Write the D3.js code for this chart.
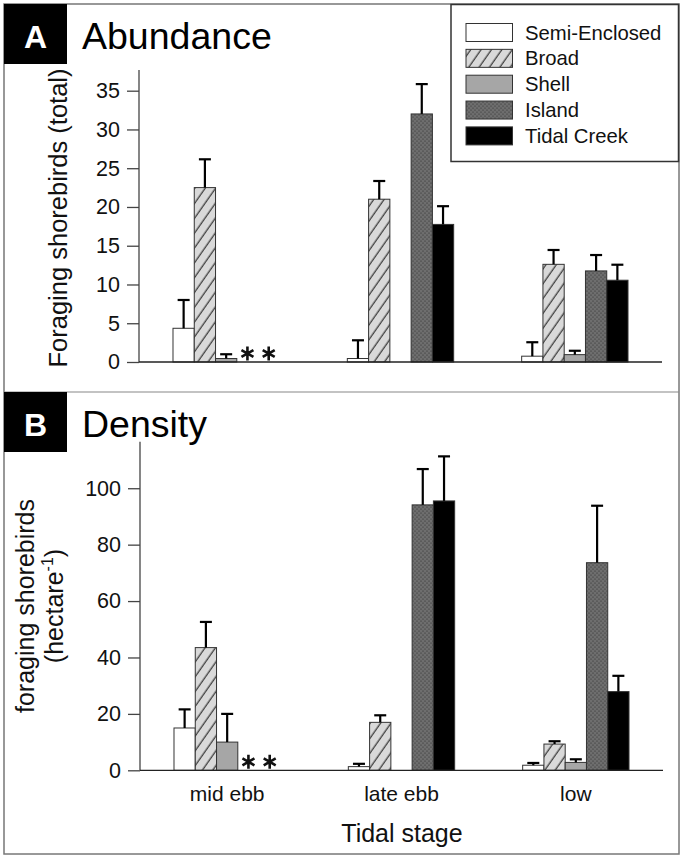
<!DOCTYPE html>
<html><head><meta charset="utf-8">
<script src="https://cdn.jsdelivr.net/npm/d3@7"></script>
<style>body{margin:0;background:#fff}svg{display:block;font-family:"Liberation Sans",Arial,sans-serif}</style>
</head><body>
<svg id="c" width="684" height="859"></svg>
<script>
// ---- data ----
const stages = ["mid ebb", "late ebb", "low"];
const habitats = ["Semi-Enclosed", "Broad", "Shell", "Island", "Tidal Creek"];
// Abundance: mean per stage (rows) x habitat (cols); null = not drawn
const abundanceMean = [
  [4.35, 22.5, 0.45, null, null],
  [0.45, 21.0, null, 32.0, 17.75],
  [0.75, 12.6, 0.95, 11.75, 10.55]
];
const abundanceErr = [
  [3.65, 3.65, 0.55, null, null],
  [2.35, 2.35, null, 3.85, 2.35],
  [1.8, 1.85, 0.5, 2.05, 2.0]
];
// Density
const densityMean = [
  [15.0, 43.5, 10.0, null, null],
  [1.3, 17.0, null, 94.1, 95.5],
  [1.8, 9.3, 2.8, 73.6, 27.9]
];
const densityErr = [
  [6.6, 9.1, 10.0, null, null],
  [1.0, 2.5, null, 12.7, 15.8],
  [0.8, 1.0, 1.1, 20.2, 5.6]
];
// habitats not sampled (marked with asterisk)
const missingMarks = [["mid ebb", "Island"], ["mid ebb", "Tidal Creek"]];
const abundanceTicks = [0, 5, 10, 15, 20, 25, 30, 35];
const densityTicks = [0, 20, 40, 60, 80, 100];

// ---- drawing ----
const svg = d3.select("#c");
const defs = svg.append("defs");
const hatch = defs.append("pattern").attr("id", "hatch").attr("patternUnits", "userSpaceOnUse")
  .attr("width", 8.5).attr("height", 10).attr("patternTransform", "rotate(35)");
hatch.append("rect").attr("width", 8.5).attr("height", 10).attr("fill", "#d9d9d9");
hatch.append("line").attr("x1", 4).attr("x2", 4).attr("y1", -1).attr("y2", 11).attr("stroke", "#222").attr("stroke-width", 1.1);
const dots = defs.append("pattern").attr("id", "dots").attr("patternUnits", "userSpaceOnUse")
  .attr("width", 4).attr("height", 4);
dots.append("rect").attr("width", 4).attr("height", 4).attr("fill", "#6e6e6e");
dots.append("circle").attr("cx", 1).attr("cy", 1).attr("r", 0.6).attr("fill", "#262626");
dots.append("circle").attr("cx", 3).attr("cy", 3).attr("r", 0.6).attr("fill", "#262626");

const fills = d3.scaleOrdinal().domain(habitats)
  .range(["#ffffff", "url(#hatch)", "#a6a6a6", "url(#dots)", "#000000"]);

// frame
svg.append("rect").attr("x", 4).attr("y", 4).attr("width", 675).attr("height", 850)
  .attr("fill", "none").attr("stroke", "#777").attr("stroke-width", 1.5);
svg.append("line").attr("x1", 4).attr("x2", 679).attr("y1", 392).attr("y2", 392)
  .attr("stroke", "#888").attr("stroke-width", 1.2);

const star = d3.symbol(d3.symbolAsterisk, 135);

function panel(opt) {
  const g = svg.append("g");
  const x0 = d3.scaleBand().domain(stages).range([opt.left, opt.right]).paddingInner(0.39).paddingOuter(0.195);
  const x1 = d3.scaleBand().domain(habitats).range([0, x0.bandwidth()]);
  const y = d3.scaleLinear().domain([0, opt.max]).range([opt.bottom, opt.top]);

  // label box
  g.append("rect").attr("x", 4).attr("y", opt.boxY).attr("width", 63).attr("height", 60).attr("fill", "#000");
  g.append("text").attr("x", 35.5).attr("y", opt.boxY + 43.5).attr("text-anchor", "middle")
    .attr("fill", "#fff").attr("font-weight", "bold").attr("font-size", 32).text(opt.letter);
  g.append("text").attr("x", 82).attr("y", opt.boxY + 45).attr("font-size", 37.5).attr("fill", "#000").text(opt.title);

  // bars
  const cells = [];
  stages.forEach((s, i) => habitats.forEach((h, j) => {
    if (opt.mean[i][j] != null) cells.push({ s, h, v: opt.mean[i][j], e: opt.err[i][j] });
  }));
  g.selectAll("rect.bar").data(cells).join("rect").attr("class", "bar")
    .attr("x", d => x0(d.s) + x1(d.h)).attr("width", x1.bandwidth())
    .attr("y", d => y(d.v)).attr("height", d => y(0) - y(d.v))
    .attr("fill", d => fills(d.h)).attr("stroke", "#333").attr("stroke-width", 1);
  // error bars
  const eb = g.selectAll("g.err").data(cells.filter(d => d.e != null)).join("g").attr("class", "err")
    .attr("stroke", "#000").attr("stroke-width", 2.2);
  eb.append("line").attr("x1", d => x0(d.s) + x1(d.h) + x1.bandwidth() / 2)
    .attr("x2", d => x0(d.s) + x1(d.h) + x1.bandwidth() / 2)
    .attr("y1", d => y(d.v)).attr("y2", d => y(d.v + d.e));
  eb.append("line").attr("x1", d => x0(d.s) + x1(d.h) + x1.bandwidth() / 2 - 6)
    .attr("x2", d => x0(d.s) + x1(d.h) + x1.bandwidth() / 2 + 6)
    .attr("y1", d => y(d.v + d.e)).attr("y2", d => y(d.v + d.e));
  // asterisks marking unsampled habitats
  g.selectAll("path.miss").data(missingMarks).join("path").attr("class", "miss")
    .attr("transform", d => `translate(${x0(d[0]) + x1(d[1]) + x1.bandwidth() / 2},${y(0) - 8.5})`)
    .attr("d", star).attr("fill", "none").attr("stroke", "#111").attr("stroke-width", 2.6);

  // axes
  const ya = g.append("g").attr("transform", `translate(${opt.left},0)`)
    .call(d3.axisLeft(y).tickValues(opt.ticks).tickSize(12).tickSizeOuter(0).tickPadding(7));
  ya.select(".domain").attr("stroke", "#444").attr("stroke-width", 1.3)
    .attr("d", `M0,${opt.top}V${opt.bottom}`);
  ya.selectAll(".tick line").attr("stroke", "#444").attr("stroke-width", 1.3);
  ya.selectAll(".tick text").attr("font-size", 21.5).attr("fill", "#111").attr("font-family", "Liberation Sans, Arial, sans-serif");
  g.append("line").attr("x1", opt.left).attr("x2", opt.right).attr("y1", y(0)).attr("y2", y(0))
    .attr("stroke", "#222").attr("stroke-width", 1.3);
  return { g, x0, y };
}

const A = panel({ letter: "A", title: "Abundance", boxY: 4, left: 139, right: 662, top: 70, bottom: 362,
  max: 37.67, mean: abundanceMean, err: abundanceErr, ticks: abundanceTicks });
A.g.append("text").attr("transform", "translate(67,218) rotate(-90)").attr("text-anchor", "middle")
  .attr("font-size", 25.5).attr("fill", "#111").text("Foraging shorebirds (total)");

const B = panel({ letter: "B", title: "Density", boxY: 392, left: 140, right: 663, top: 441.7, bottom: 770.3,
  max: 116.5, mean: densityMean, err: densityErr, ticks: densityTicks });
const yt = B.g.append("text").attr("transform", "translate(34,606) rotate(-90)").attr("text-anchor", "middle")
  .attr("font-size", 25).attr("fill", "#111");
yt.append("tspan").attr("x", 0).attr("y", 0).text("foraging shorebirds");
const l2 = yt.append("tspan").attr("x", 0).attr("y", 29);
l2.append("tspan").text("(hectare");
l2.append("tspan").attr("dy", -10).attr("font-size", 16).text("-1");
l2.append("tspan").attr("dy", 10).text(")");

// category labels
B.g.selectAll("text.cat").data(stages).join("text").attr("class", "cat")
  .attr("x", d => B.x0(d) + B.x0.bandwidth() / 2).attr("y", 801).attr("text-anchor", "middle")
  .attr("font-size", 21).attr("fill", "#111").text(d => d);
svg.append("text").attr("x", 402).attr("y", 842).attr("text-anchor", "middle").attr("font-size", 25)
  .attr("fill", "#111").text("Tidal stage");

// legend
const lg = svg.append("g");
lg.append("rect").attr("x", 451).attr("y", 4.5).attr("width", 227.5).attr("height", 157)
  .attr("fill", "#fff").attr("stroke", "#333").attr("stroke-width", 1.5);
const li = lg.selectAll("g.li").data(habitats).join("g").attr("class", "li")
  .attr("transform", (d, i) => `translate(466,${23.5 + i * 25.85})`);
li.append("rect").attr("width", 46.5).attr("height", 18).attr("fill", d => fills(d))
  .attr("stroke", "#333").attr("stroke-width", 1);
li.append("text").attr("x", 59).attr("y", 16).attr("font-size", 20.3).attr("fill", "#111").text(d => d);
</script>
</body></html>
